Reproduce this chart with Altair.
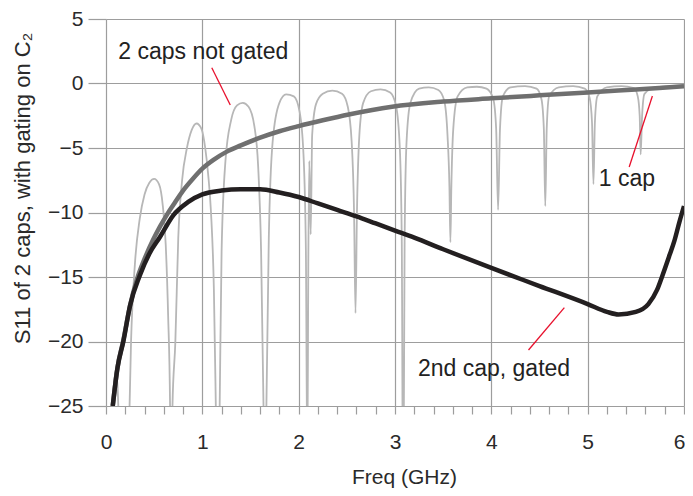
import altair as alt
import pandas as pd

# ---- data ----
# "2 caps not gated" (light gray, oscillating)
nogate_x = [0.04, 0.08, 0.10, 0.12, 0.15, 0.20, 0.235, 0.26, 0.30, 0.35, 0.40, 0.45, 0.50, 0.55, 0.59,
            0.62, 0.645, 0.665, 0.675, 0.69, 0.72, 0.75, 0.79, 0.84, 0.89, 0.94, 0.99, 1.03, 1.06,
            1.09, 1.12, 1.14, 1.16, 1.18, 1.20, 1.24, 1.30, 1.36, 1.42, 1.48, 1.54, 1.58, 1.61,
            1.635, 1.65, 1.665, 1.69, 1.73, 1.80, 1.87, 1.95, 2.01, 2.05, 2.075, 2.09, 2.10, 2.11,
            2.125, 2.14, 2.18, 2.25, 2.35, 2.45, 2.51, 2.55, 2.575, 2.59, 2.605, 2.63, 2.67, 2.75,
            2.85, 2.95, 3.01, 3.05, 3.07, 3.085, 3.10, 3.12, 3.16, 3.25, 3.35, 3.45, 3.51, 3.545,
            3.565, 3.575, 3.585, 3.605, 3.65, 3.75, 3.85, 3.95, 4.02, 4.05, 4.07, 4.09, 4.12, 4.20,
            4.35, 4.47, 4.52, 4.545, 4.56, 4.575, 4.60, 4.70, 4.85, 4.97, 5.02, 5.045, 5.06, 5.075,
            5.10, 5.20, 5.35, 5.48, 5.52, 5.54, 5.55, 5.565, 5.59, 5.70, 5.85, 6.00]
nogate_y = [-30, -23.5, -22.3, -23.5, -30, -32, -28, -20, -14, -10.5, -8.6, -7.7, -7.4, -7.8, -9.5,
            -12.5, -18, -25, -35, -25, -20, -12, -7.5, -5, -3.6, -3.1, -3.5, -5, -7,
            -10, -16, -25, -35, -25, -13, -6, -2.8, -1.7, -1.5, -1.8, -3.3, -6.5, -13,
            -25, -35, -25, -12, -4.5, -1.5, -0.85, -1.0, -2.2, -5.5, -13, -30, -14, -6,
            -11.7, -4, -1.6, -0.8, -0.55, -0.8, -1.8, -4.5, -10, -17.8, -10, -4, -1.5, -0.6,
            -0.45, -0.7, -1.7, -5, -12, -35, -12, -4.5, -1.5, -0.4, -0.3, -0.5, -1.3, -4,
            -8, -12.3, -8, -3.5, -1.0, -0.3, -0.25, -0.4, -1.2, -3.5, -9.8, -3.5, -1.0, -0.3,
            -0.2, -0.4, -1.2, -3.5, -9.5, -3.5, -1.0, -0.3, -0.2, -0.4, -1.1, -3, -7.8, -3,
            -1.0, -0.3, -0.2, -0.35, -1.0, -2.5, -5.5, -2.5, -0.8, -0.3, -0.2, -0.15]

# "1 cap" (medium gray)
onecap_x = [0.07, 0.12, 0.18, 0.25, 0.32, 0.40, 0.49, 0.56, 0.63, 0.70, 0.80, 0.90, 1.00, 1.12,
            1.25, 1.40, 1.60, 1.80, 2.00, 2.25, 2.52, 2.75, 2.97, 3.50, 4.00, 4.50, 5.00, 5.50, 6.00]
onecap_y = [-25, -22, -19.9, -17.2, -15.2, -13.6, -12.1, -11.1, -10.2, -9.4, -8.3, -7.4, -6.6, -5.9,
            -5.3, -4.8, -4.2, -3.7, -3.3, -2.85, -2.4, -2.07, -1.8, -1.4, -1.15, -0.92, -0.7, -0.46, -0.22]

# "2nd cap, gated" (black)
gated_x = [0.07, 0.12, 0.18, 0.25, 0.35, 0.45, 0.56, 0.70, 0.85, 1.00, 1.20, 1.40, 1.60, 1.80,
           2.00, 2.20, 2.40, 2.60, 2.80, 3.00, 3.20, 3.50, 4.00, 4.50, 5.00, 5.20, 5.32, 5.50, 5.63,
           5.72, 5.78, 5.85, 5.90, 5.95, 6.00]
gated_y = [-25, -22, -20, -17.2, -14.9, -13.2, -11.9, -10.2, -9.2, -8.6, -8.3, -8.2, -8.2, -8.45,
           -8.8, -9.3, -9.8, -10.3, -10.85, -11.4, -11.95, -12.85, -14.3, -15.7, -17.1, -17.7, -17.9,
           -17.7, -17.1, -16.0, -14.8, -13.3, -12.2, -10.8, -9.5]

# annotations: text, anchor (x, y) and red leader segments
note_text = ["2 caps not gated", "1 cap", "2nd cap, gated"]
note_x = [0.127, 5.116, 3.238]
note_y = [1.9, -7.95, -22.67]
lead_x1 = [1.098, 5.431, 4.386]
lead_y1 = [1.225, -6.47, -20.66]
lead_x2 = [1.290, 5.672, 4.758]
lead_y2 = [-1.67, -0.97, -17.38]

x_ticks = [i / 5 for i in range(31)]
y_ticks = [-25, -20, -15, -10, -5, 0, 5]

# ---- tables ----
df_nogate = pd.DataFrame({"f": nogate_x, "s": nogate_y})
df_one = pd.DataFrame({"f": onecap_x, "s": onecap_y})
df_gated = pd.DataFrame({"f": gated_x, "s": gated_y})
df_notes = pd.DataFrame({"t": note_text, "f": note_x, "s": note_y})
df_lead = pd.DataFrame({"f": lead_x1, "s": lead_y1, "f2": lead_x2, "s2": lead_y2})

FONT = "Liberation Sans"
GRID = "#9d9d9d"
TXT = "#2a2a2a"
is_int = "abs(datum.value - round(datum.value)) < 1e-6"

xscale = alt.Scale(domain=[0, 6], nice=False, zero=False)
yscale = alt.Scale(domain=[-25, 5], nice=False, zero=False)

xaxis = alt.Axis(
    values=x_ticks,
    tickCount=len(x_ticks) + 10,
    labelExpr=f"{is_int} ? format(datum.value, 'd') : ''",
    grid=True,
    gridColor=GRID,
    gridWidth=1.2,
    gridOpacity={"condition": {"test": is_int, "value": 1}, "value": 0},
    domain=False,
    ticks=True,
    tickSize=8,
    tickColor=GRID,
    tickWidth=1.2,
    labelFont=FONT,
    labelFontSize=21,
    labelColor=TXT,
    labelPadding=17,
    labelFlush=False,
    labelOverlap=False,
    labelAlign={"condition": {"test": "datum.value > 5.9", "value": "right"}, "value": "center"},
    labelOffset={"condition": {"test": "datum.value > 5.9", "value": 1}, "value": 0},
    title="Freq (GHz)",
    titleFont=FONT,
    titleFontSize=21,
    titleFontWeight="normal",
    titleColor=TXT,
    titleX=298,
    titleY=77,
    titleBaseline="alphabetic",
    titleAlign="center",
)

yaxis = alt.Axis(
    values=y_ticks,
    grid=True,
    gridColor=GRID,
    gridWidth=1.2,
    domain=False,
    ticks=True,
    tickSize=18,
    tickColor=GRID,
    tickWidth=1.2,
    labelFont=FONT,
    labelFontSize=21,
    labelColor=TXT,
    labelPadding=5,
    labelFlush=False,
    labelOverlap=False,
    title="S11 of 2 caps, with gating on C\u2082",
    titleFont=FONT,
    titleFontSize=22,
    titleFontWeight="normal",
    titleColor=TXT,
    titleAngle=270,
    titleX=-84,
    titleY=169,
    titleBaseline="middle",
    titleAlign="center",
)

base_x = alt.X("f:Q", scale=xscale, axis=xaxis)
base_y = alt.Y("s:Q", scale=yscale, axis=yaxis)

nogate = alt.Chart(df_nogate).mark_line(color="#b7b7b7", strokeWidth=1.8, clip=True,
                                        interpolate="monotone").encode(x=base_x, y=base_y)
one = alt.Chart(df_one).mark_line(color="#6f6f6f", strokeWidth=4.5, clip=True,
                                  strokeJoin="round", interpolate="monotone").encode(x="f:Q", y="s:Q")
gated = alt.Chart(df_gated).mark_line(color="#231f20", strokeWidth=4.5, clip=True,
                                      strokeJoin="round", interpolate="monotone").encode(x="f:Q", y="s:Q")
leads = alt.Chart(df_lead).mark_rule(color="#e8112d", strokeWidth=1.3).encode(
    x="f:Q", y="s:Q", x2="f2:Q", y2="s2:Q")
notes = alt.Chart(df_notes).mark_text(
    align="left", baseline="alphabetic", font=FONT, fontSize=23, color="#222222"
).encode(x="f:Q", y="s:Q", text="t:N")

chart = alt.layer(nogate, one, gated, leads, notes).properties(
    width=578,
    height=387,
    autosize=alt.AutoSizeParams(type="none"),
    padding={"left": 98, "top": 11, "right": 1, "bottom": 82},
).configure_view(stroke=None)

chart.save("out.html", embed_options={"renderer": "svg", "actions": False})
